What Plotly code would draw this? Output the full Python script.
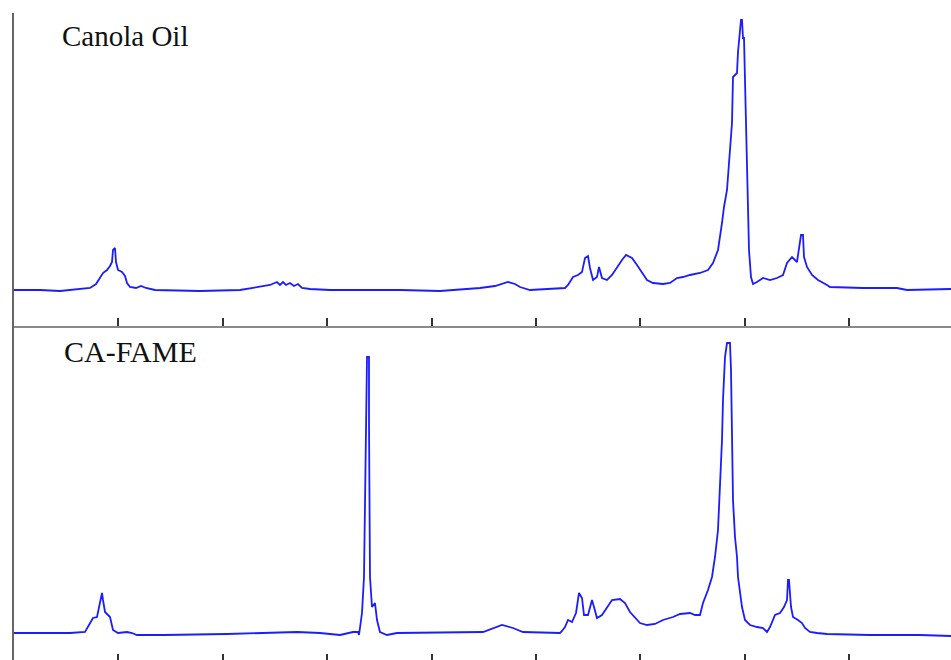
import plotly.graph_objects as go

# ---- data (x in channel units, intensity in arbitrary units) ----
canola_x = [0, 26, 46, 66, 76, 82, 86, 89, 93, 96, 98, 99, 101, 102, 104, 108, 111, 113, 116,
            122, 127, 132, 141, 186, 226, 243, 256, 263, 266, 269, 272, 276, 280, 284, 288, 296,
            316, 346, 386, 426, 466, 481, 494, 501, 506, 516, 536, 551, 554, 559, 564, 568, 571,
            574, 576, 579, 583, 585, 588, 593, 598, 603, 608, 612, 618, 623, 628, 633, 639, 649,
            656, 663, 669, 676, 686, 694, 699, 704, 708, 710, 713, 715, 718, 719, 723, 724, 726,
            727, 728, 729, 730, 732, 734, 735, 737, 739, 743, 749, 756, 763, 769, 773, 778, 783,
            787, 789, 790, 793, 798, 804, 813, 816, 849, 883, 893, 937]
canola_y = [0, 0, -1, 1, 2, 6, 12, 17, 20, 24, 28, 40, 42, 28, 20, 18, 14, 7, 3,
            2, 4, 2, 0, -1, 0, 3, 5, 8, 5, 8, 5, 7, 4, 6, 2, 1,
            0, 0, 0, -1, 2, 4, 8, 6, 3, 0, 1, 2, 5, 13, 15, 18, 32,
            34, 22, 10, 13, 23, 12, 10, 15, 23, 30, 35, 32, 25, 17, 10, 7, 6,
            7, 12, 13, 15, 17, 20, 27, 40, 67, 83, 100, 130, 167, 213, 217, 238, 257,
            270, 270, 252, 252, 163, 90, 40, 13, 6, 8, 12, 10, 12, 15, 27, 33, 28,
            55, 55, 33, 23, 15, 10, 5, 3, 2, 2, 0, 1]

fame_x = [0, 56, 71, 76, 79, 83, 85, 88, 89, 91, 94, 96, 99, 104, 113, 118, 123, 150, 213,
          283, 306, 326, 339, 344, 345, 348, 350, 353, 355, 355, 356, 358, 361, 363, 366, 373,
          383, 469, 488, 499, 509, 546, 548, 551, 554, 558, 562, 565, 568, 570, 574, 578, 580,
          583, 588, 593, 598, 606, 611, 616, 621, 626, 633, 641, 649, 659, 666, 673, 676, 681,
          686, 689, 694, 698, 701, 704, 706, 708, 709, 711, 713, 716, 717, 718, 719, 721, 723,
          724, 728, 731, 736, 743, 749, 753, 756, 761, 766, 770, 773, 774, 775, 777, 779, 784,
          788, 791, 796, 803, 813, 856, 906, 937]
fame_y = [0, 0, 1, 10, 15, 16, 25, 40, 33, 21, 18, 16, 3, 0, 1, 0, -2, -2, -1,
          1, 0, -2, 1, 1, -2, 20, 56, 276, 276, 210, 56, 26, 30, 13, 1, -2,
          0, 1, 8, 5, 1, 0, 2, 6, 13, 11, 20, 40, 35, 18, 18, 33, 26,
          15, 18, 25, 33, 34, 30, 21, 15, 10, 8, 9, 13, 16, 19, 20, 20, 18,
          18, 30, 43, 56, 76, 103, 146, 193, 233, 276, 290, 290, 263, 203, 133, 96, 76,
          56, 26, 13, 8, 6, 5, 1, 6, 18, 20, 26, 33, 53, 53, 26, 16, 13,
          10, 5, 1, 0, -1, -2, -2, -3]

labels = ["Canola Oil", "CA-FAME"]

W, H = 951, 660
left_px = 14
split_px = 326
top_px = 13
line_color = "rgb(28,28,255)"
axis_color = "#8a8a8a"
tick_color = "#333333"

fig = go.Figure()
fig.add_trace(go.Scatter(x=canola_x, y=canola_y, mode="lines", xaxis="x", yaxis="y",
                         line=dict(color=line_color, width=1.8), showlegend=False,
                         hoverinfo="skip"))
fig.add_trace(go.Scatter(x=fame_x, y=fame_y, mode="lines", xaxis="x2", yaxis="y2",
                         line=dict(color=line_color, width=1.8), showlegend=False,
                         hoverinfo="skip"))

xdom = [left_px / W, 1]
top_dom = [(H - split_px) / H, (H - top_px) / H]
bot_dom = [0, (H - split_px) / H]

common_x = dict(range=[0, 937], domain=xdom, showgrid=False, zeroline=False,
                showticklabels=False, ticks="inside", ticklen=8, tickwidth=1.5,
                tickcolor=tick_color, tick0=0, dtick=104.4)

fig.update_layout(
    width=W, height=H,
    margin=dict(l=0, r=0, t=0, b=0),
    paper_bgcolor="white", plot_bgcolor="white",
    xaxis=dict(anchor="y", showline=True, linecolor=axis_color, linewidth=2, **common_x),
    xaxis2=dict(anchor="y2", showline=False, **{**common_x, "ticklen": 6}),
    yaxis=dict(domain=top_dom, range=[-36, 277], anchor="x", showline=True,
               linecolor="#666666", linewidth=2, showgrid=False, zeroline=False,
               showticklabels=False, ticks=""),
    yaxis2=dict(domain=bot_dom, range=[-27, 307], anchor="x2", showline=True,
                linecolor="#666666", linewidth=2, showgrid=False, zeroline=False,
                showticklabels=False, ticks=""),
    annotations=[
        dict(text=labels[0], xref="paper", yref="paper", x=60 / W, y=1 - 36 / H,
             xanchor="left", yanchor="middle", showarrow=False,
             font=dict(family="Liberation Serif, Times New Roman, serif", size=29, color="#111111")),
        dict(text=labels[1], xref="paper", yref="paper", x=62 / W, y=1 - 351 / H,
             xanchor="left", yanchor="middle", showarrow=False,
             font=dict(family="Liberation Serif, Times New Roman, serif", size=30, color="#111111")),
    ],
)

fig.write_html("out.html", config={"displayModeBar": False},
               post_script="document.body.style.margin='0';document.body.style.overflow='hidden';")
